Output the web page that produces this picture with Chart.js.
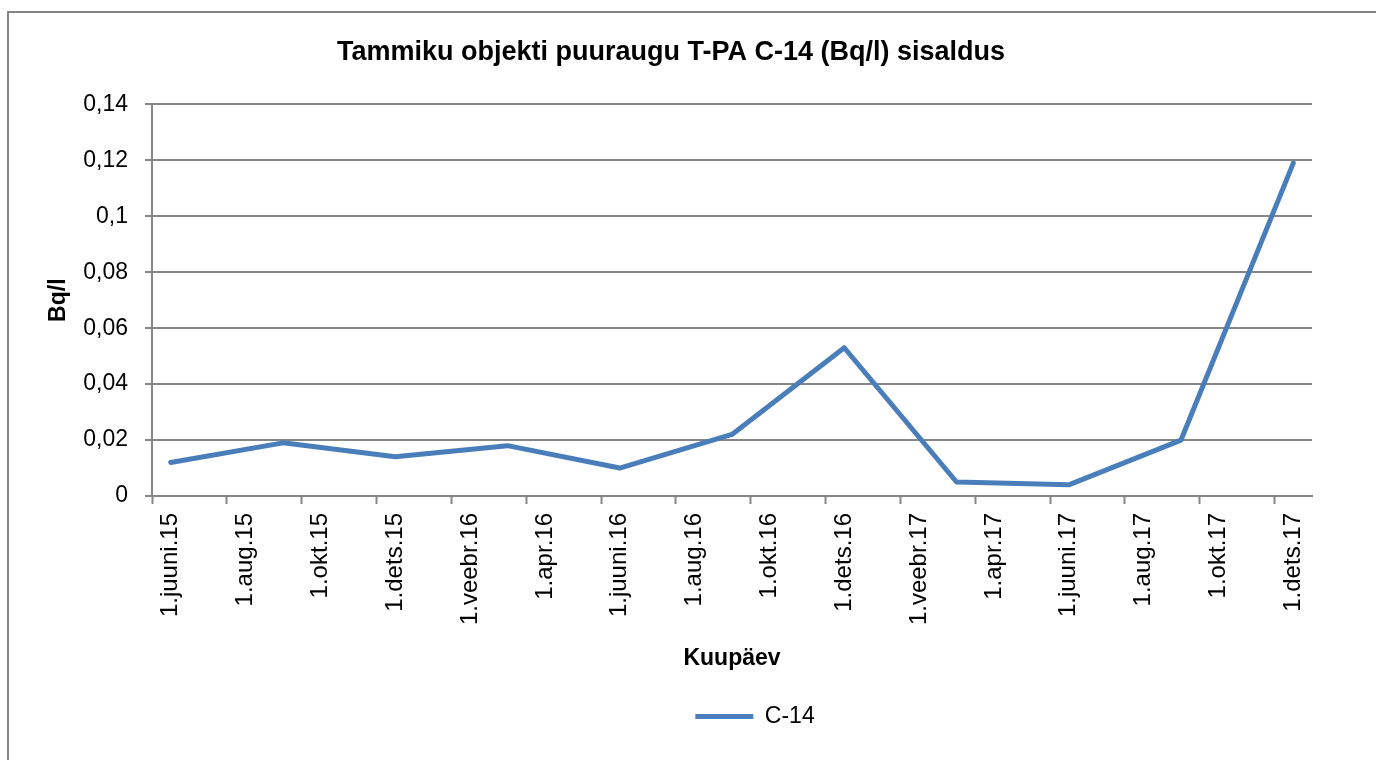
<!DOCTYPE html>
<html>
<head>
<meta charset="utf-8">
<title>Tammiku objekti puuraugu T-PA C-14 sisaldus</title>
<script src="https://cdn.jsdelivr.net/npm/chart.js@4/dist/chart.umd.min.js"></script>
<style>
    html, body { margin: 0; padding: 0; background: #ffffff; overflow: hidden; }
    #wrap { position: relative; width: 1376px; height: 760px; }
    #frame {
        position: absolute; left: 7px; top: 11px; width: 1420px; height: 800px;
        border-left: 2px solid #868686; border-top: 2px solid #868686;
    }
    canvas { position: absolute; left: 0; top: 0; }
</style>
</head>
<body>
<div id="wrap">
    <div id="frame"></div>
    <canvas id="chart" width="1376" height="760"></canvas>
</div>
<script>
// Month slots on the date axis (every month, labels shown every second month)
const monthLabels = [
    '1.juuni.15', '1.juuli.15', '1.aug.15', '1.sept.15', '1.okt.15', '1.nov.15', '1.dets.15',
    '1.jaan.16', '1.veebr.16', '1.märts.16', '1.apr.16', '1.mai.16', '1.juuni.16', '1.juuli.16',
    '1.aug.16', '1.sept.16', '1.okt.16', '1.nov.16', '1.dets.16', '1.jaan.17', '1.veebr.17',
    '1.märts.17', '1.apr.17', '1.mai.17', '1.juuni.17', '1.juuli.17', '1.aug.17', '1.sept.17',
    '1.okt.17', '1.nov.17', '1.dets.17'
];

// Sampling dates and measured C-14 (Bq/l)
const sampleDates = [
    '1.juuni.15', '1.sept.15', '1.dets.15', '1.märts.16', '1.juuni.16', '1.sept.16',
    '1.dets.16', '1.märts.17', '1.juuni.17', '1.sept.17', '1.dets.17'
];
const c14Values = [0.012, 0.019, 0.014, 0.018, 0.010, 0.022, 0.053, 0.005, 0.004, 0.020, 0.119];

// Y axis ticks
const yMin = 0;
const yMax = 0.14;
const yStep = 0.02;

const GRID = '#868686';
const LINE = '#4a7ebb';
const FONT = "'Liberation Sans', Arial, sans-serif";

Chart.defaults.font.family = FONT;
Chart.defaults.color = '#000000';

// Shift legend to where Excel put it
const legendShift = {
    id: 'legendShift',
    beforeDraw(chart) {
        const lg = chart.legend;
        if (lg && !lg._shifted) {
            lg.left += 84;
            lg.right += 84;
            lg._shifted = true;
        }
    },
    afterUpdate(chart) {
        if (chart.legend) chart.legend._shifted = false;
    }
};

const ctx = document.getElementById('chart').getContext('2d');
new Chart(ctx, {
    type: 'line',
    data: {
        labels: monthLabels,
        datasets: [{
            label: 'C-14',
            data: sampleDates.map((d, i) => ({ x: d, y: c14Values[i] })),
            borderColor: LINE,
            backgroundColor: LINE,
            borderWidth: 5,
            borderJoinStyle: 'round',
            borderCapStyle: 'round',
            pointRadius: 0,
            pointHoverRadius: 0,
            tension: 0,
            fill: false
        }]
    },
    options: {
        responsive: false,
        animation: false,
        layout: { padding: { left: 30, right: 64, top: 0, bottom: 22 } },
        plugins: {
            title: {
                display: true,
                text: 'Tammiku objekti puuraugu T-PA C-14 (Bq/l) sisaldus',
                color: '#000000',
                font: { size: 27, weight: 'bold', family: FONT },
                padding: { top: 36, bottom: 36 }
            },
            legend: {
                position: 'bottom',
                labels: {
                    usePointStyle: true,
                    pointStyle: 'line',
                    pointStyleWidth: 58,
                    boxHeight: 5,
                    padding: 24,
                    color: '#000000',
                    font: { size: 23, family: FONT }
                }
            },
            tooltip: { enabled: false }
        },
        scales: {
            x: {
                type: 'category',
                offset: true,
                afterFit: s => { s.height = 185; },
                grid: {
                    offset: true,
                    drawOnChartArea: false,
                    drawTicks: true,
                    tickLength: 8,
                    tickWidth: 2,
                    tickColor: c => (c.index % 2 === 0 ? GRID : 'rgba(0,0,0,0)')
                },
                border: { display: true, color: GRID, width: 2 },
                ticks: {
                    autoSkip: false,
                    maxRotation: 90,
                    minRotation: 90,
                    padding: 9,
                    color: '#000000',
                    font: { size: 24 },
                    callback: function (val, index) {
                        return index % 2 === 0 ? this.getLabelForValue(val) : '';
                    }
                },
                title: {
                    display: true,
                    text: 'Kuupäev',
                    color: '#000000',
                    font: { size: 23, weight: 'bold' },
                    padding: { top: 0, bottom: 9 }
                }
            },
            y: {
                min: yMin,
                max: yMax,
                afterFit: s => { s.width = 122; },
                grid: {
                    color: GRID,
                    lineWidth: 2,
                    drawTicks: true,
                    tickLength: 7,
                    tickColor: GRID
                },
                border: { display: true, color: GRID, width: 2 },
                ticks: {
                    stepSize: yStep,
                    padding: 17,
                    color: '#000000',
                    font: { size: 23 },
                    callback: v => String(Number(v.toFixed(2))).replace('.', ',')
                },
                title: {
                    display: true,
                    text: 'Bq/l',
                    color: '#000000',
                    font: { size: 23, weight: 'bold' },
                    padding: { top: 15, bottom: 0 }
                }
            }
        }
    },
    plugins: [legendShift]
});
</script>
</body>
</html>
